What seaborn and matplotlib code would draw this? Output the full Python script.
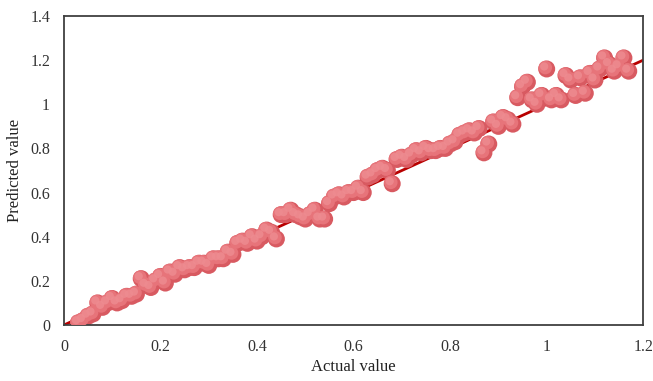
import numpy as np
import pandas as pd
import seaborn as sns
from matplotlib import pyplot as plt
import matplotlib.transforms as mtransforms

actual = [0.03, 0.04, 0.05, 0.06, 0.07, 0.08, 0.09, 0.10, 0.11, 0.12,
          0.13, 0.14, 0.15, 0.16, 0.17, 0.18, 0.19, 0.20, 0.21, 0.22,
          0.23, 0.24, 0.25, 0.26, 0.27, 0.28, 0.29, 0.30, 0.31, 0.32,
          0.33, 0.34, 0.35, 0.36, 0.37, 0.38, 0.39, 0.40, 0.41, 0.42,
          0.43, 0.44, 0.45, 0.46, 0.47, 0.48, 0.49, 0.50, 0.51, 0.52,
          0.53, 0.54, 0.55, 0.56, 0.57, 0.58, 0.59, 0.60, 0.61, 0.62,
          0.63, 0.64, 0.65, 0.66, 0.67, 0.68, 0.69, 0.70, 0.71, 0.72,
          0.73, 0.74, 0.75, 0.76, 0.77, 0.78, 0.79, 0.80, 0.81, 0.82,
          0.83, 0.84, 0.85, 0.86, 0.87, 0.88, 0.89, 0.90, 0.91, 0.92,
          0.93, 0.94, 0.95, 0.96, 0.97, 0.98, 0.99, 1.00, 1.01, 1.02,
          1.03, 1.04, 1.05, 1.06, 1.07, 1.08, 1.09, 1.10, 1.11, 1.12,
          1.13, 1.14, 1.15, 1.16, 1.17]
predicted = [0.01, 0.02, 0.04, 0.05, 0.10, 0.08, 0.10, 0.12, 0.10, 0.11,
             0.13, 0.13, 0.14, 0.21, 0.18, 0.17, 0.20, 0.22, 0.19, 0.24,
             0.23, 0.26, 0.25, 0.26, 0.26, 0.28, 0.28, 0.27, 0.30, 0.30,
             0.30, 0.33, 0.32, 0.37, 0.38, 0.37, 0.40, 0.38, 0.40, 0.43,
             0.42, 0.39, 0.50, 0.50, 0.52, 0.50, 0.49, 0.48, 0.50, 0.52,
             0.48, 0.48, 0.55, 0.58, 0.59, 0.58, 0.60, 0.60, 0.62, 0.60,
             0.67, 0.68, 0.70, 0.71, 0.70, 0.64, 0.75, 0.76, 0.75, 0.77,
             0.79, 0.78, 0.80, 0.79, 0.79, 0.80, 0.80, 0.82, 0.83, 0.86,
             0.87, 0.88, 0.87, 0.89, 0.78, 0.82, 0.92, 0.90, 0.94, 0.93,
             0.91, 1.03, 1.08, 1.10, 1.02, 1.00, 1.04, 1.16, 1.02, 1.04,
             1.02, 1.13, 1.11, 1.04, 1.12, 1.05, 1.14, 1.11, 1.16, 1.21,
             1.18, 1.15, 1.17, 1.21, 1.15]

# ideal fit line
line_x = [0.0, 1.2]
line_y = [0.0, 1.2]

df = pd.DataFrame({"Actual value": actual, "Predicted value": predicted})
line_df = pd.DataFrame({"x": line_x, "y": line_y})

sns.set_style("white")
plt.rcParams["font.family"] = ["Liberation Serif", "DejaVu Serif"]

fig = plt.figure(figsize=(6.53, 3.81), dpi=100)
ax = fig.add_axes([0.098, 0.147, 0.887, 0.811])

sns.lineplot(data=line_df, x="x", y="y", ax=ax, color="#b80000", lw=2.0, zorder=1)

# sphere look: darker base disc, then lighter discs shifted up-left
sns.scatterplot(data=df, x="Actual value", y="Predicted value", ax=ax,
                s=150, color="#d85a61", edgecolor="none", zorder=2)
shift = mtransforms.offset_copy(ax.transData, fig=fig, x=-1.0, y=1.0, units="points")
ax.scatter(actual, predicted, s=95, color="#e7747a", edgecolor="none",
           zorder=3, transform=shift)
shift2 = mtransforms.offset_copy(ax.transData, fig=fig, x=-1.8, y=1.8, units="points")
ax.scatter(actual, predicted, s=35, color="#ee8c91", edgecolor="none",
           zorder=4, transform=shift2, alpha=0.8)

ax.set_xlim(0, 1.2)
ax.set_ylim(0, 1.4)
ax.set_xticks([0, 0.2, 0.4, 0.6, 0.8, 1.0, 1.2])
ax.set_xticklabels(["0", "0.2", "0.4", "0.6", "0.8", "1", "1.2"])
ax.set_yticks([0, 0.2, 0.4, 0.6, 0.8, 1.0, 1.2, 1.4])
ax.set_yticklabels(["0", "0.2", "0.4", "0.6", "0.8", "1", "1.2", "1.4"])
ax.tick_params(length=0, labelsize=11.5, colors="#333333")
ax.tick_params(axis="x", pad=10)
ax.tick_params(axis="y", pad=10)
ax.set_xlabel("Actual value", fontsize=12, color="#222222", labelpad=3)
ax.set_ylabel("Predicted value", fontsize=12, color="#222222", labelpad=5)
for sp in ax.spines.values():
    sp.set_color("#404040")
    sp.set_linewidth(1.3)
    sp.set_visible(True)

fig.savefig("out.png", dpi=100)
